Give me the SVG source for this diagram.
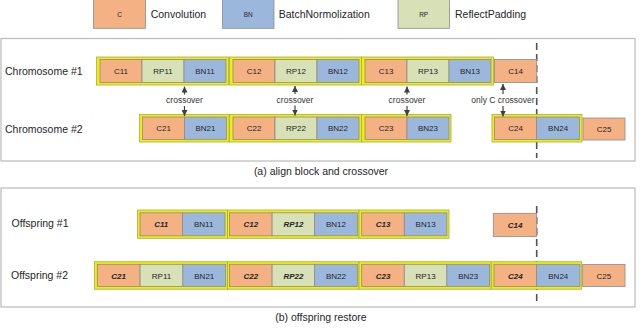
<svg xmlns="http://www.w3.org/2000/svg" width="640" height="328" viewBox="0 0 640 328">
<style>
text{font-family:"Liberation Sans",Arial,sans-serif;fill:#262626}
.o{fill:#F4B183;stroke:#8c8c8c;stroke-width:0.8}
.b{fill:#9BB8DC;stroke:#8c8c8c;stroke-width:0.8}
.g{fill:#D7E0B6;stroke:#8c8c8c;stroke-width:0.8}
.grp{fill:#f0f000;stroke:#a9a95a;stroke-width:0.8}
.t{font-size:8px;text-anchor:middle}
.bi{font-weight:bold;font-style:italic}
.lbl{font-size:10.5px}
.lt{font-size:6.5px;text-anchor:middle}
.x{font-size:8.5px;text-anchor:middle;fill:#333}
.panel{fill:none;stroke:#bfbfbf;stroke-width:1.3}
.dash{stroke:#555;stroke-width:1.6;stroke-dasharray:7,4}
.arr{stroke:#404040;stroke-width:1.2;marker-end:url(#ah)}
.cap{font-size:10.5px;text-anchor:middle}
</style>
<defs>
<marker id="ah" viewBox="0 0 10 10" refX="10" refY="5" markerWidth="6" markerHeight="6" markerUnits="userSpaceOnUse" orient="auto">
<path d="M0,0 L10,5 L0,10 z" fill="#404040"/>
</marker>
</defs>

<!-- legend -->
<g id="legend-c"><rect class="o" x="93.5" y="-1" width="52" height="29.3"/><text class="lt" x="119.5" y="16.8">C</text><text class="lbl" x="150.7" y="18.3">Convolution</text></g>
<g id="legend-bn"><rect class="b" x="222.5" y="-1" width="51.5" height="29.3"/><text class="lt" x="248.2" y="16.8">BN</text><text class="lbl" x="278.7" y="18.3">BatchNormolization</text></g>
<g id="legend-rp"><rect class="g" x="398" y="-1" width="51.5" height="29.3"/><text class="lt" x="423.7" y="16.8">RP</text><text class="lbl" x="455" y="18.3">ReflectPadding</text></g>

<!-- panels -->
<rect class="panel" x="1" y="38.5" width="634" height="122.5"/>
<text class="cap" x="321" y="175">(a) align block and crossover</text>
<rect class="panel" x="1" y="188" width="634" height="119"/>
<text class="cap" x="321" y="321">(b) offspring restore</text>

<text class="lbl" x="5" y="74.8">Chromosome #1</text>
<text class="lbl" x="5" y="132.7">Chromosome #2</text>
<text class="lbl" x="11.5" y="227">Offspring #1</text>
<text class="lbl" x="11" y="278.7">Offspring #2</text>

<!-- dashed separators -->
<line class="dash" x1="536.7" y1="43" x2="536.7" y2="158"/>
<line class="dash" x1="536.7" y1="206" x2="536.7" y2="303"/>

<!-- Chromosome #1 -->
<g id="ch1-b1"><rect class="grp" x="96.5" y="57" width="132" height="28"/>
<rect class="o" x="100" y="59.5" width="42" height="23"/><text class="t" x="121" y="74">C11</text>
<rect class="g" x="142" y="59.5" width="42" height="23"/><text class="t" x="163" y="74">RP11</text>
<rect class="b" x="184" y="59.5" width="42" height="23"/><text class="t" x="205" y="74">BN11</text></g>
<g id="ch1-b2"><rect class="grp" x="229.5" y="57" width="132" height="28"/>
<rect class="o" x="233" y="59.5" width="42" height="23"/><text class="t" x="254" y="74">C12</text>
<rect class="g" x="275" y="59.5" width="42" height="23"/><text class="t" x="296" y="74">RP12</text>
<rect class="b" x="317" y="59.5" width="42" height="23"/><text class="t" x="338" y="74">BN12</text></g>
<g id="ch1-b3"><rect class="grp" x="361.5" y="57" width="132" height="28"/>
<rect class="o" x="365" y="59.5" width="42" height="23"/><text class="t" x="386" y="74">C13</text>
<rect class="g" x="407" y="59.5" width="42" height="23"/><text class="t" x="428" y="74">RP13</text>
<rect class="b" x="449" y="59.5" width="42" height="23"/><text class="t" x="470" y="74">BN13</text></g>
<g id="ch1-c14"><rect class="o" x="494.5" y="59.5" width="42.2" height="23"/><text class="t" x="515.6" y="74">C14</text></g>

<!-- Chromosome #2 -->
<g id="ch2-b1"><rect class="grp" x="139.5" y="114.5" width="89.5" height="27.5"/>
<rect class="o" x="142.5" y="117" width="42" height="22.5"/><text class="t" x="163.5" y="131.2">C21</text>
<rect class="b" x="184.5" y="117" width="42" height="22.5"/><text class="t" x="205.5" y="131.2">BN21</text></g>
<g id="ch2-b2"><rect class="grp" x="229.5" y="114.5" width="132" height="27.5"/>
<rect class="o" x="233" y="117" width="42" height="22.5"/><text class="t" x="254" y="131.2">C22</text>
<rect class="g" x="275" y="117" width="42" height="22.5"/><text class="t" x="296" y="131.2">RP22</text>
<rect class="b" x="317" y="117" width="42" height="22.5"/><text class="t" x="338" y="131.2">BN22</text></g>
<g id="ch2-b3"><rect class="grp" x="361.5" y="114.5" width="89.5" height="27.5"/>
<rect class="o" x="365" y="117" width="42" height="22.5"/><text class="t" x="386" y="131.2">C23</text>
<rect class="b" x="407" y="117" width="42" height="22.5"/><text class="t" x="428" y="131.2">BN23</text></g>
<g id="ch2-b4"><rect class="grp" x="492" y="114.5" width="90" height="27.5"/>
<rect class="o" x="494.5" y="117" width="42.2" height="22.5"/><text class="t" x="515.6" y="131.2">C24</text>
<rect class="b" x="536.7" y="117" width="42.8" height="22.5"/><text class="t" x="558.1" y="131.2">BN24</text></g>
<g id="ch2-c25"><rect class="o" x="583" y="118" width="42" height="22"/><text class="t" x="604" y="131.7">C25</text></g>

<!-- Offspring #1 -->
<g id="of1-b1"><rect class="grp" x="137.5" y="210" width="90" height="28.3"/>
<rect class="o" x="140" y="212.8" width="42.5" height="23"/><text class="t bi" x="161.2" y="227.3">C11</text>
<rect class="b" x="182.5" y="212.8" width="42.5" height="23"/><text class="t" x="203.7" y="227.3">BN11</text></g>
<g id="of1-b2"><rect class="grp" x="227.5" y="210" width="131.5" height="28.3"/>
<rect class="o" x="229.5" y="212.8" width="42.6" height="23"/><text class="t bi" x="250.8" y="227.3">C12</text>
<rect class="g" x="272.1" y="212.8" width="42.6" height="23"/><text class="t bi" x="293.4" y="227.3">RP12</text>
<rect class="b" x="314.7" y="212.8" width="42.6" height="23"/><text class="t" x="336" y="227.3">BN12</text></g>
<g id="of1-b3"><rect class="grp" x="359" y="210" width="90" height="28.3"/>
<rect class="o" x="361.7" y="212.8" width="42.6" height="23"/><text class="t bi" x="383" y="227.3">C13</text>
<rect class="b" x="404.3" y="212.8" width="42.6" height="23"/><text class="t" x="425.6" y="227.3">BN13</text></g>
<g id="of1-c14"><rect class="o" x="493.3" y="213.3" width="43.4" height="23.3"/><text class="t bi" x="515" y="228">C14</text></g>

<!-- Offspring #2 -->
<g id="of2-b1"><rect class="grp" x="94.5" y="261.7" width="133" height="27.5"/>
<rect class="o" x="97.3" y="264.3" width="42.8" height="22.3"/><text class="t bi" x="118.7" y="278.5">C21</text>
<rect class="g" x="140.1" y="264.3" width="42.8" height="22.3"/><text class="t" x="161.5" y="278.5">RP11</text>
<rect class="b" x="182.9" y="264.3" width="42.8" height="22.3"/><text class="t" x="204.3" y="278.5">BN21</text></g>
<g id="of2-b2"><rect class="grp" x="227.5" y="261.7" width="131.5" height="27.5"/>
<rect class="o" x="229.5" y="264.3" width="42.6" height="22.3"/><text class="t bi" x="250.8" y="278.5">C22</text>
<rect class="g" x="272.1" y="264.3" width="42.6" height="22.3"/><text class="t bi" x="293.4" y="278.5">RP22</text>
<rect class="b" x="314.7" y="264.3" width="42.6" height="22.3"/><text class="t" x="336" y="278.5">BN22</text></g>
<g id="of2-b3"><rect class="grp" x="359" y="261.7" width="132" height="27.5"/>
<rect class="o" x="361.7" y="264.3" width="42.6" height="22.3"/><text class="t bi" x="383" y="278.5">C23</text>
<rect class="g" x="404.3" y="264.3" width="42.6" height="22.3"/><text class="t" x="425.6" y="278.5">RP13</text>
<rect class="b" x="446.9" y="264.3" width="42.6" height="22.3"/><text class="t" x="468.2" y="278.5">BN23</text></g>
<g id="of2-b4"><rect class="grp" x="491.7" y="261.7" width="90" height="27.5"/>
<rect class="o" x="494" y="264.3" width="42.7" height="22.3"/><text class="t bi" x="515.3" y="278.5">C24</text>
<rect class="b" x="536.7" y="264.3" width="43.3" height="22.3"/><text class="t" x="558.3" y="278.5">BN24</text></g>
<g id="of2-c25"><rect class="o" x="582.7" y="264.5" width="42.3" height="22"/><text class="t" x="603.8" y="278.5">C25</text></g>

<!-- connectors -->
<g id="connectors">
<line class="arr" x1="184.5" y1="94.5" x2="184.5" y2="86.5"/>
<line class="arr" x1="184.5" y1="106" x2="184.5" y2="116"/>
<text class="x" x="184.5" y="103.3">crossover</text>
<line class="arr" x1="295" y1="94" x2="295" y2="86"/>
<line class="arr" x1="295" y1="105.5" x2="295" y2="115.5"/>
<text class="x" x="295" y="102.5">crossover</text>
<line class="arr" x1="407" y1="94.5" x2="407" y2="86.5"/>
<line class="arr" x1="407" y1="106" x2="407" y2="116"/>
<text class="x" x="407" y="103.3">crossover</text>
<line class="arr" x1="503" y1="94" x2="503" y2="84"/>
<line class="arr" x1="503" y1="106" x2="503" y2="116.5"/>
<text class="x" x="503" y="103.3">only C crossover</text>
</g>
</svg>
